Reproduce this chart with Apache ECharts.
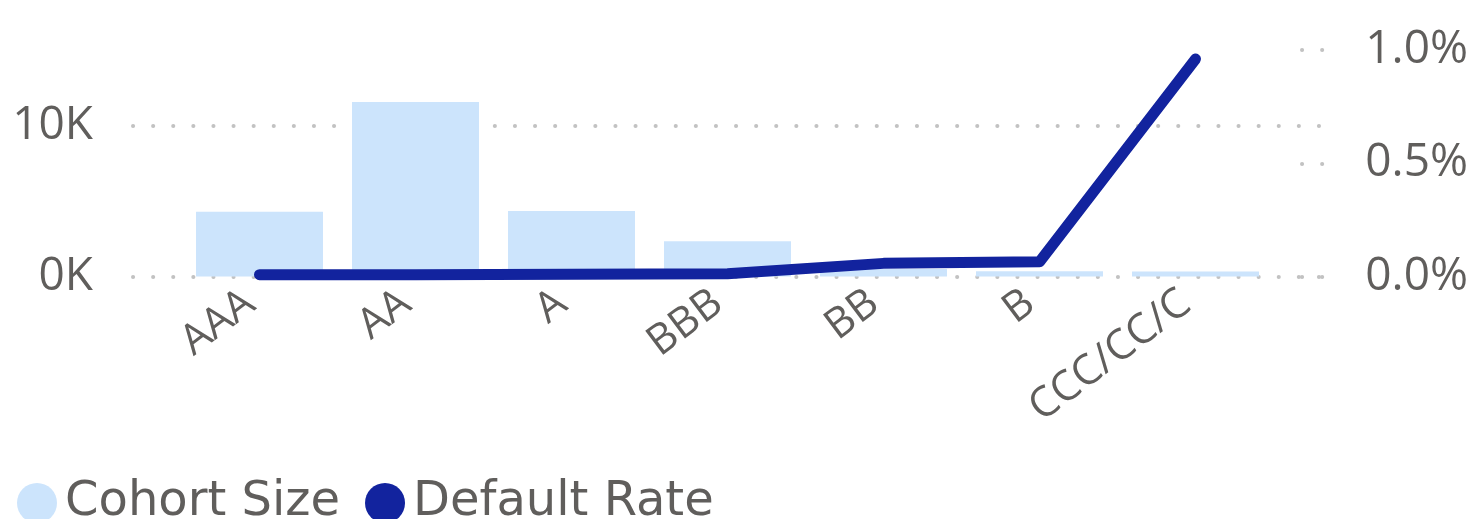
<!DOCTYPE html>
<html>
<head>
<meta charset="utf-8">
<title>Cohort Size and Default Rate by Rating</title>
<script src="https://cdn.jsdelivr.net/npm/echarts@6/dist/echarts.min.js"></script>
<style>
  html, body { margin: 0; padding: 0; background: #ffffff; }
  #chart { width: 1471px; height: 519px; }
</style>
</head>
<body>
<div id="chart"></div>
<script>
// Rating buckets along the x axis
const ratings = ['AAA', 'AA', 'A', 'BBB', 'BB', 'B', 'CCC/CC/C'];
// Number of issuers in each cohort
const cohortSize = [4300, 11600, 4350, 2350, 500, 350, 330];
// Default rate per rating, in percent
const defaultRate = [0.008, 0.008, 0.010, 0.012, 0.058, 0.065, 0.960];
// Tick values shown on the two value axes
const countTicks = [0, 10000];
const rateTicks = [0, 0.5, 1.0];

const TEXT = '#605e5c';
const GRID_DOT = '#c2c2c2';
const BAR_COLOR = '#cce4fc';
const LINE_COLOR = '#12239e';

// Vertical layout of the plot area (pixels)
const PLOT_TOP = 50;
const ZERO_Y = 276.5;
const TOP_COUNT_Y = 126;
const CHART_H = 519;
const PLOT_BOTTOM = CHART_H - ZERO_Y;

// Count axis extends above its top tick so both axes share the same plot height
const countMax = countTicks[countTicks.length - 1] * (ZERO_Y - PLOT_TOP) / (ZERO_Y - TOP_COUNT_Y);
const rateMax = rateTicks[rateTicks.length - 1];

const dotted = {
  color: GRID_DOT,
  width: 4,
  type: [0.1, 20],
  cap: 'round'
};

const chart = echarts.init(document.getElementById('chart'), null, { renderer: 'canvas' });

chart.setOption({
  animation: false,
  backgroundColor: '#ffffff',
  legend: {
    data: ['Cohort Size', 'Default Rate'],
    left: 12,
    top: 474,
    icon: 'circle',
    itemWidth: 40,
    itemHeight: 40,
    itemGap: 25,
    textStyle: {
      fontFamily: 'DejaVu Sans',
      fontSize: 48,
      color: TEXT,
      lineHeight: 40,
      padding: [0, 0, 0, 3]
    }
  },
  grid: [
    // bars and line
    { left: 181.5, right: 197.5, top: PLOT_TOP, bottom: PLOT_BOTTOM },
    // count gridlines and labels
    { left: 133, right: 151, top: TOP_COUNT_Y, bottom: PLOT_BOTTOM },
    // rate gridlines and labels
    { left: 1302, right: 145, top: PLOT_TOP, bottom: PLOT_BOTTOM }
  ],
  xAxis: [
    {
      gridIndex: 0,
      type: 'category',
      data: ratings,
      axisLine: { show: false },
      axisTick: { show: false },
      axisLabel: {
        interval: 0,
        rotate: 37,
        margin: 15,
        padding: [0, 12, 0, 0],
        fontFamily: 'Open Sans',
        fontSize: 42,
        color: TEXT
      }
    },
    { gridIndex: 1, type: 'value', show: false, min: 0, max: 1 },
    { gridIndex: 2, type: 'value', show: false, min: 0, max: 1 }
  ],
  yAxis: [
    // scale for bars
    { gridIndex: 0, type: 'value', min: 0, max: countMax, show: false },
    // scale for line
    { gridIndex: 0, type: 'value', min: 0, max: rateMax, show: false, position: 'right' },
    // visible count axis
    {
      gridIndex: 1,
      type: 'value',
      min: countTicks[0],
      max: countTicks[countTicks.length - 1],
      interval: countTicks[1] - countTicks[0],
      axisLine: { show: false },
      axisTick: { show: false },
      splitLine: { show: true, lineStyle: dotted },
      axisLabel: {
        margin: 40,
        fontFamily: 'Open Sans',
        fontSize: 46,
        color: TEXT,
        formatter: v => (v / 1000).toFixed(0) + 'K'
      }
    },
    // visible rate axis
    {
      gridIndex: 2,
      type: 'value',
      position: 'right',
      min: rateTicks[0],
      max: rateMax,
      interval: rateTicks[1] - rateTicks[0],
      axisLine: { show: false },
      axisTick: { show: false },
      splitLine: { show: true, lineStyle: dotted },
      axisLabel: {
        margin: 40,
        fontFamily: 'Open Sans',
        fontSize: 46,
        color: TEXT,
        formatter: v => v.toFixed(1) + '%'
      }
    }
  ],
  series: [
    {
      name: 'Cohort Size',
      type: 'bar',
      xAxisIndex: 0,
      yAxisIndex: 0,
      data: cohortSize,
      barCategoryGap: '18.6%',
      itemStyle: { color: BAR_COLOR },
      z: 2
    },
    {
      name: 'Default Rate',
      type: 'line',
      xAxisIndex: 0,
      yAxisIndex: 1,
      data: defaultRate,
      showSymbol: false,
      symbol: 'circle',
      itemStyle: { color: LINE_COLOR },
      lineStyle: { color: LINE_COLOR, width: 11, cap: 'round', join: 'round' },
      z: 3
    }
  ]
});
</script>
</body>
</html>
